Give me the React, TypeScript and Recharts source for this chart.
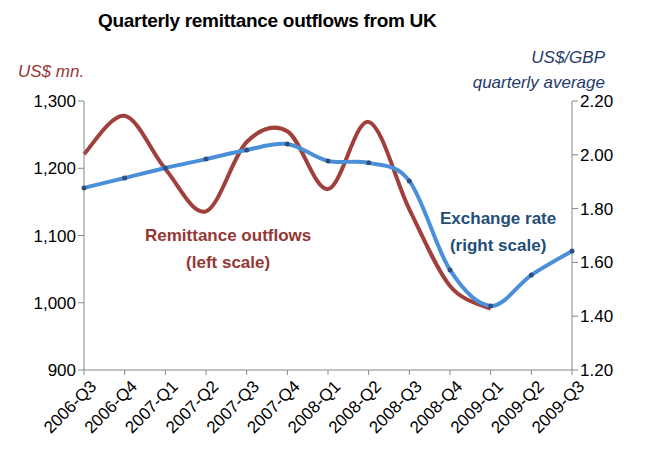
import { ComposedChart, Line, XAxis, YAxis } from 'recharts';

const quarters = ['2006-Q3', '2006-Q4', '2007-Q1', '2007-Q2', '2007-Q3', '2007-Q4', '2008-Q1', '2008-Q2', '2008-Q3', '2008-Q4', '2009-Q1', '2009-Q2', '2009-Q3'];
const remittance = [1221, 1278, 1199, 1136, 1239, 1255, 1169, 1269, 1139, 1025, 991, null, null];
const exchangeRate = [1.877, 1.914, 1.951, 1.984, 2.018, 2.04, 1.977, 1.97, 1.903, 1.572, 1.438, 1.553, 1.642];
const leftTicks = [900, 1000, 1100, 1200, 1300];
const rightTicks = [1.2, 1.4, 1.6, 1.8, 2.0, 2.2];

const data = quarters.map((q, i) => ({ q, remit: remittance[i], fx: exchangeRate[i] }));

const font = '"Liberation Sans", Arial, sans-serif';
const tickStyle = { fontSize: 17, fill: '#000', fontFamily: font };

// Excel-style smoothing (Catmull-Rom, tension 1/6)
function excelCurve(context: any) {
  let pts: [number, number][] = [];
  return {
    areaStart() {},
    areaEnd() {},
    lineStart() { pts = []; },
    point(x: number, y: number) { pts.push([+x, +y]); },
    lineEnd() {
      if (!pts.length) return;
      context.moveTo(pts[0][0], pts[0][1]);
      for (let i = 0; i < pts.length - 1; i++) {
        const p0 = pts[Math.max(0, i - 1)];
        const p1 = pts[i];
        const p2 = pts[i + 1];
        const p3 = pts[Math.min(pts.length - 1, i + 2)];
        context.bezierCurveTo(
          p1[0] + (p2[0] - p0[0]) / 6, p1[1] + (p2[1] - p0[1]) / 6,
          p2[0] - (p3[0] - p1[0]) / 6, p2[1] - (p3[1] - p1[1]) / 6,
          p2[0], p2[1],
        );
      }
    },
  };
}

export default function App() {
  return (
    <div style={{ position: 'absolute', left: 0, top: 0, width: 645, height: 460, fontFamily: font }}>
      <div style={{ position: 'absolute', left: 98, top: 10, fontSize: 19, fontWeight: 'bold', letterSpacing: -0.3 }}>
        Quarterly remittance outflows from UK
      </div>
      <div style={{ position: 'absolute', left: 18, top: 62, fontSize: 17, fontStyle: 'italic', color: '#953735' }}>US$ mn.</div>
      <div style={{ position: 'absolute', right: 40, top: 45, fontSize: 17, fontStyle: 'italic', color: '#1f3b6b', textAlign: 'right', lineHeight: '25px' }}>
        US$/GBP<br />quarterly average
      </div>
      <div style={{ position: 'absolute', left: 145, top: 222, fontSize: 17, fontWeight: 'bold', color: '#953735', textAlign: 'center', lineHeight: '27px' }}>
        Remittance outflows<br />(left scale)
      </div>
      <div style={{ position: 'absolute', left: 440, top: 205, fontSize: 17, fontWeight: 'bold', color: '#1f4e79', textAlign: 'center', lineHeight: '27px' }}>
        Exchange rate<br />(right scale)
      </div>
      <ComposedChart width={645} height={460} data={data} margin={{ top: 101, right: 0, bottom: 0, left: 0 }}>
        <XAxis
          dataKey="q"
          interval={0}
          height={90}
          angle={-45}
          textAnchor="end"
          tick={{ ...tickStyle, dx: 5, dy: 2 }}
          stroke="#888"
          tickSize={5}
        />
        <YAxis
          yAxisId="l"
          domain={[900, 1300]}
          ticks={leftTicks}
          width={84}
          tick={tickStyle}
          tickFormatter={(v: number) => v.toLocaleString('en-US')}
          stroke="#888"
        />
        <YAxis
          yAxisId="r"
          orientation="right"
          domain={[1.2, 2.2]}
          ticks={rightTicks}
          width={73}
          tick={tickStyle}
          tickFormatter={(v: number) => v.toFixed(2)}
          stroke="#888"
        />
        <Line yAxisId="l" type={excelCurve as any} dataKey="remit" stroke="#a0403c" strokeWidth={4} dot={false} isAnimationActive={false} />
        <Line yAxisId="r" type={excelCurve as any} dataKey="fx" stroke="#4a90d9" strokeWidth={4} dot={{ r: 2.5, fill: '#2f4f7f', stroke: 'none' }} isAnimationActive={false} />
      </ComposedChart>
    </div>
  );
}
